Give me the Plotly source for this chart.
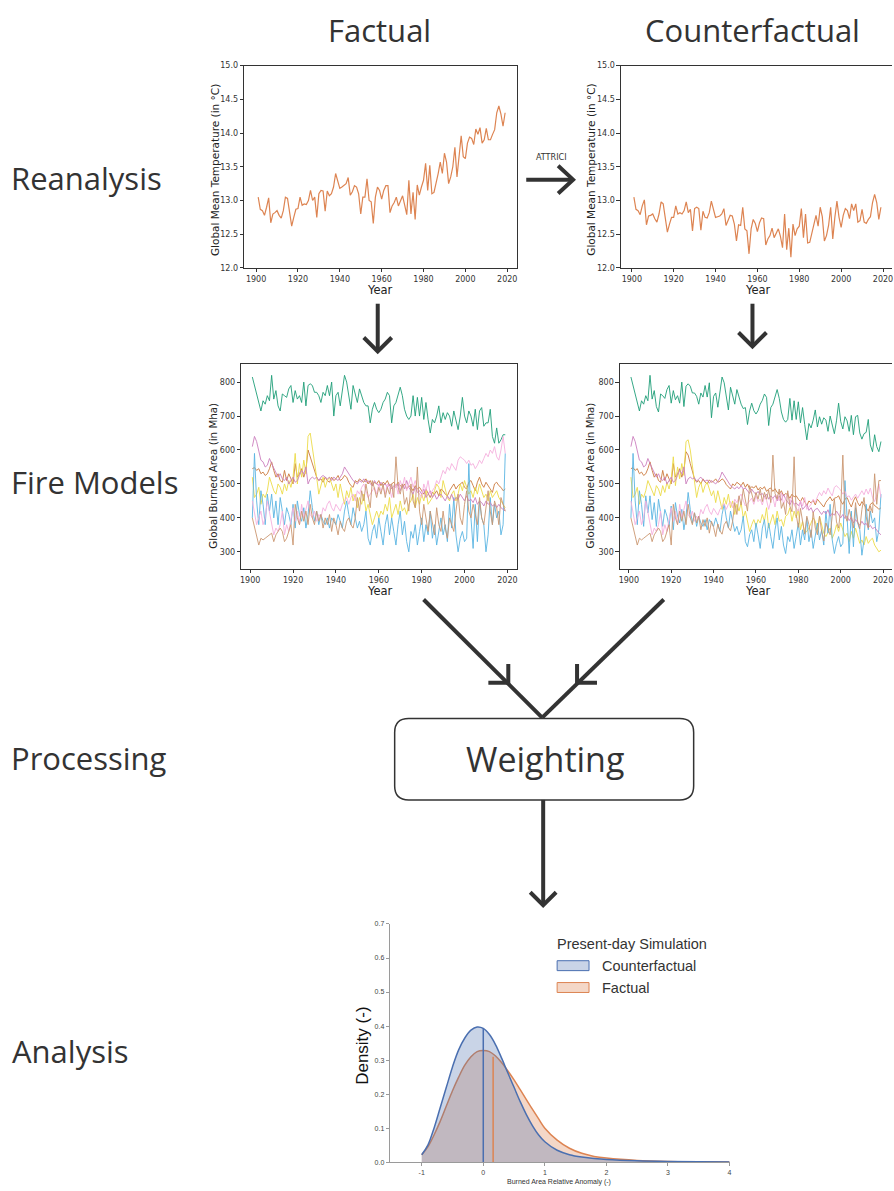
import plotly.graph_objects as go

W, H = 894, 1191


def px(x):
    return x / W


def py(y):
    return 1 - y / H


# ---------------- DATA ----------------
years = list(range(1901, 2020))

temp_factual = [
    13.05, 12.87, 12.85, 12.78, 12.90, 13.04, 12.67, 12.80, 12.82, 12.85,
    12.78, 12.74, 12.85, 13.05, 13.03, 12.80, 12.62, 12.75, 12.87, 12.88,
    13.05, 12.93, 12.95, 12.94, 13.00, 13.15, 13.00, 13.05, 12.75, 13.10,
    13.15, 13.14, 12.84, 13.14, 13.07, 13.10, 13.20, 13.40, 13.28, 13.18,
    13.20, 13.22, 13.25, 13.34, 13.08, 13.13, 13.22, 13.20, 13.10, 12.80,
    13.05, 13.05, 13.32, 13.00, 12.98, 12.66, 13.05, 13.20, 13.15, 13.02,
    13.15, 13.22, 13.22, 12.82, 12.92, 12.97, 13.05, 12.92, 13.00, 13.07,
    12.93, 12.79, 13.30, 12.80, 13.12, 12.72, 13.23, 13.08, 13.20, 13.30,
    13.55, 13.15, 13.52, 13.10, 13.12, 13.25, 13.40, 13.57, 13.40, 13.70,
    13.57, 13.25, 13.35, 13.50, 13.79, 13.35, 13.70, 13.96, 13.65, 13.62,
    13.85, 13.94, 13.92, 13.83, 14.06, 13.98, 14.08, 13.85, 13.90, 14.07,
    13.90, 13.90, 13.98, 14.05, 14.30, 14.40, 14.28, 14.10, 14.30,
]

temp_counterfactual = [
    13.05, 12.87, 12.85, 12.79, 12.92, 13.01, 12.64, 12.77, 12.78, 12.80,
    12.73, 12.68, 12.80, 12.98, 12.95, 12.70, 12.53, 12.65, 12.75, 12.75,
    12.92, 12.80, 12.82, 12.80, 12.85, 12.98, 12.82, 12.87, 12.55, 12.88,
    12.90, 12.88, 12.56, 12.84, 12.75, 12.74, 12.82, 12.99, 12.86, 12.75,
    12.76, 12.77, 12.80, 12.88, 12.63, 12.70, 12.78, 12.77, 12.65, 12.40,
    12.64, 12.63, 12.90, 12.58, 12.55, 12.21, 12.58, 12.72, 12.66, 12.54,
    12.67, 12.74, 12.73, 12.34, 12.43, 12.48, 12.59, 12.45, 12.52, 12.58,
    12.47, 12.30, 12.80, 12.27, 12.59, 12.16, 12.65, 12.48, 12.58, 12.62,
    12.88, 12.45, 12.80, 12.37, 12.38, 12.50, 12.63, 12.78, 12.62, 12.90,
    12.76, 12.40, 12.48, 12.63, 12.90, 12.43, 12.75, 12.99, 12.75, 12.60,
    12.78, 12.88, 12.85, 12.73, 12.95, 12.85, 12.95, 12.68, 12.70, 12.87,
    12.68, 12.66, 12.72, 12.76, 12.97, 13.09, 12.97, 12.72, 12.90,
]

# Fire models, factual forcing (Mha)
fire_factual_green = [
    815, 790, 770, 740, 715, 745, 735, 760, 745, 820,
    750, 775, 730, 715, 765, 760, 755, 780, 790, 740,
    775, 750, 760, 740, 800, 730, 790, 795, 790, 770,
    770, 760, 740, 770, 760, 790, 760, 800, 700, 760,
    770, 730, 780, 820, 800, 760, 720, 790, 760, 740,
    780, 760, 740, 730, 730, 680, 720, 740, 720, 710,
    720, 740, 750, 770, 760, 680, 730, 740, 760, 785,
    760, 720, 700, 690, 700, 760, 700, 755, 700, 755,
    690, 740, 690, 650, 690, 680, 700, 730, 680, 710,
    690, 710, 700, 670, 715, 690, 660, 700, 755, 700,
    680, 715, 700, 670, 720, 660, 715, 725, 670, 680,
    680, 720, 640, 620, 665, 620, 630, 645, 645,
]
fire_factual_orange = [
    545, 548, 540, 545, 530, 535, 525, 530, 545, 565,
    540, 520, 530, 510, 505, 540, 510, 530, 515, 500,
    560, 520, 530, 545, 520, 540, 600, 580, 560, 540,
    520, 510, 515, 505, 520, 510, 505, 520, 510, 515,
    525, 510, 515, 525, 520, 505, 495, 490, 510, 505,
    515, 510, 505, 515, 500, 510, 495, 505, 500, 510,
    495, 505, 500, 510, 495, 500, 505, 495, 505, 495,
    490, 500, 485, 495, 490, 480, 495, 485, 490, 480,
    470, 485, 470, 460, 475, 470, 480, 465, 485, 480,
    470, 465, 480, 490, 500, 485, 495, 500, 505, 490,
    485, 505, 510, 495, 480, 505, 520, 500, 490, 505,
    495, 485, 475, 500, 505, 495, 490, 480, 485,
]
fire_factual_yellow = [
    520, 460, 470, 490, 440, 470, 460, 480, 520, 500,
    480, 470, 500, 490, 470, 500, 480, 510, 490, 520,
    590, 500, 560, 520, 570, 530, 640, 650, 610, 560,
    520, 470, 500, 520, 490, 510, 520, 500, 480, 500,
    460, 500, 470, 440, 480, 460, 490, 450, 470, 430,
    460, 440, 470, 420, 440, 410, 380, 400, 420, 400,
    420, 410, 440, 420, 460, 400, 420, 440, 410, 450,
    420, 430, 410, 440, 450, 470, 430, 460, 440, 470,
    450, 480, 440, 450, 460, 480, 500, 490, 460, 510,
    480, 460, 450, 470, 480, 450, 470, 500, 480, 510,
    490, 470, 480, 460, 490, 470, 500, 480, 460, 470,
    450, 480, 460, 470, 480, 460, 450, 440, 430,
]
fire_factual_blue = [
    400, 590, 450, 380, 480, 440, 380, 470, 420, 470,
    400, 450, 380, 460, 420, 380, 430, 410, 380, 440,
    370, 450, 410, 390, 430, 370, 410, 480, 430, 390,
    420, 380, 410, 390, 380, 400, 370, 400, 390, 380,
    410, 390, 370, 420, 450, 410, 380, 430, 400, 370,
    390, 360, 380, 420, 340, 320, 360, 380, 340, 400,
    360, 320, 380, 410, 350, 400, 360, 320, 380, 420,
    350, 390, 330, 300, 360, 340, 380, 320, 360, 400,
    330, 380, 350, 420, 340, 380, 320, 360, 400, 350,
    380, 330, 440, 370, 460, 350, 300, 340, 360, 330,
    340, 560, 400, 310, 440, 330, 450, 400, 380, 300,
    350, 460, 380, 440, 400, 420, 350, 380, 590,
]
fire_factual_magenta = [
    610, 640, 625, 600, 570, 565, 550, 555, 575, 560,
    545, 535, 520, 530, 515, 510, 520, 500, 510, 520,
    505, 510, 525, 540, 530, 550, 500, 515, 520, 515,
    520, 510, 520, 525, 520, 515, 520, 510, 520, 515,
    510, 520, 530, 550, 540, 530, 520, 510, 505, 500,
    510, 505, 515, 505, 510, 500, 495, 510, 500, 495,
    505, 495, 500, 490, 500, 485, 495, 490, 500, 480,
    500, 485, 510, 490, 480, 470, 490, 475, 480, 470,
    485, 460, 470, 480, 460, 470, 455, 465, 470, 460,
    450, 465, 455, 470, 450, 460, 455, 470, 460, 450,
    465, 450, 455, 445, 460, 440, 450, 445, 435, 450,
    440, 445, 435, 440, 430, 440, 430, 425, 420,
]
fire_factual_pink = [
    450, 420, 380, 400, 420, 380, 400, 450, 420, 390,
    350, 370, 360, 380, 420, 350, 380, 360, 400, 430,
    390, 420, 380, 440, 400, 430, 450, 410, 400, 420,
    390, 410, 400, 430, 420, 440, 450, 430, 420, 440,
    430, 420, 440, 450, 460, 440, 460, 470, 450, 480,
    470, 490, 500, 480, 460, 470, 480, 490, 470, 500,
    480, 490, 470, 500, 490, 460, 490, 500, 470, 510,
    490, 520, 480, 500, 520, 490, 510, 480, 470, 460,
    500, 480, 510, 470, 480, 490, 510, 500, 520, 540,
    530, 550, 540, 560, 550, 540, 570, 580, 575, 570,
    560, 570, 555, 560, 545, 555, 570, 560, 575, 590,
    580, 600, 590, 610, 580, 570, 600, 640, 590,
]
fire_factual_tan = [
    400, 370, 340, 320, 340, 335, 340, 345, 350, 355,
    330, 350, 360, 370, 360, 330, 340, 360, 380, 320,
    440, 400, 380, 420, 390, 420, 380, 440, 400, 380,
    420, 390, 410, 370, 400, 380, 410, 360, 400, 380,
    350, 390, 370, 360, 390, 400, 380, 370, 400, 460,
    420, 480, 450, 500, 460, 430, 510, 480, 460, 490,
    470, 500, 460, 490, 470, 500, 460, 580, 490, 470,
    500, 440, 460, 420, 500, 450, 430, 550, 420, 380,
    440, 400, 360, 420, 390, 350, 430, 380, 360, 420,
    370, 340, 400, 380, 360, 420, 470, 400, 380, 440,
    480, 420, 400, 440, 410, 380, 460, 400, 380, 440,
    480, 420, 380, 450, 430, 380, 460, 440, 420,
]

# Fire models, counterfactual forcing (Mha)
fire_counter_green = [
    815, 790, 770, 740, 715, 745, 735, 760, 745, 820,
    750, 775, 728, 712, 765, 760, 752, 778, 790, 738,
    775, 748, 760, 738, 800, 728, 788, 795, 788, 768,
    768, 758, 735, 768, 756, 790, 756, 798, 695, 758,
    768, 726, 778, 815, 798, 755, 718, 785, 755, 735,
    778, 755, 735, 722, 725, 675, 715, 738, 716, 706,
    716, 735, 746, 765, 755, 672, 725, 735, 755, 778,
    752, 712, 690, 682, 690, 752, 688, 745, 690, 742,
    680, 725, 675, 630, 678, 665, 688, 718, 668, 698,
    676, 695, 688, 655, 700, 676, 648, 686, 738, 684,
    662, 698, 686, 655, 702, 645, 698, 702, 650, 632,
    648, 652, 690, 615, 595, 645, 610, 595, 625,
]
fire_counter_orange = [
    545, 548, 540, 545, 530, 535, 525, 530, 545, 565,
    540, 520, 530, 510, 505, 540, 510, 530, 515, 500,
    560, 520, 530, 545, 520, 540, 595, 585, 560, 540,
    515, 505, 510, 500, 515, 505, 500, 512, 505, 508,
    515, 505, 508, 515, 510, 498, 490, 485, 500, 495,
    505, 500, 495, 505, 490, 500, 485, 492, 488, 495,
    482, 490, 485, 492, 478, 485, 488, 478, 486, 475,
    470, 480, 465, 472, 468, 458, 470, 462, 465, 455,
    448, 460, 446, 436, 450, 444, 452, 438, 455, 448,
    440, 432, 446, 455, 462, 450, 458, 460, 465, 450,
    440, 455, 460, 445, 432, 450, 462, 445, 435, 448,
    440, 430, 420, 440, 445, 436, 432, 425, 430,
]
fire_counter_yellow = [
    520, 460, 470, 490, 440, 470, 460, 480, 510, 495,
    475, 465, 495, 485, 465, 495, 475, 505, 485, 515,
    580, 495, 550, 515, 560, 525, 625, 630, 600, 550,
    510, 460, 490, 505, 475, 495, 505, 485, 465, 480,
    445, 480, 455, 425, 460, 440, 470, 430, 450, 410,
    440, 420, 445, 400, 420, 390, 360, 380, 395, 375,
    395, 385, 410, 390, 430, 370, 390, 410, 380, 420,
    390, 395, 375, 405, 410, 430, 390, 420, 400, 425,
    365, 390, 355, 360, 370, 385, 400, 390, 360, 405,
    375, 355, 345, 360, 370, 340, 355, 380, 360, 385,
    365, 345, 355, 330, 360, 340, 370, 345, 325, 335,
    320, 345, 325, 335, 340, 320, 310, 300, 305,
]
fire_counter_blue = [
    400, 590, 450, 380, 480, 440, 375, 465, 415, 465,
    395, 445, 375, 455, 415, 375, 425, 405, 375, 435,
    365, 445, 405, 385, 425, 365, 405, 475, 425, 385,
    415, 375, 405, 385, 375, 395, 365, 395, 385, 375,
    400, 380, 360, 410, 440, 400, 370, 420, 390, 360,
    375, 350, 365, 405, 330, 315, 350, 365, 330, 385,
    350, 310, 370, 395, 340, 385, 345, 310, 365, 400,
    335, 375, 320, 295, 345, 330, 365, 310, 345, 385,
    320, 365, 335, 400, 330, 365, 310, 345, 385, 335,
    365, 320, 420, 355, 440, 335, 295, 325, 345, 315,
    325, 510, 385, 295, 420, 315, 430, 385, 365, 290,
    335, 440, 365, 420, 385, 400, 330, 365, 470,
]
fire_counter_magenta = [
    610, 640, 625, 600, 570, 565, 550, 555, 575, 560,
    545, 535, 520, 530, 515, 510, 520, 500, 510, 520,
    505, 510, 525, 540, 530, 550, 500, 515, 520, 515,
    518, 508, 515, 520, 512, 508, 512, 502, 510, 505,
    500, 508, 518, 535, 525, 515, 505, 495, 490, 485,
    492, 486, 495, 485, 488, 478, 472, 485, 475, 470,
    478, 468, 472, 462, 470, 455, 465, 458, 466, 450,
    465, 452, 470, 455, 445, 438, 452, 440, 444, 436,
    446, 425, 432, 440, 422, 430, 416, 425, 428, 418,
    410, 420, 412, 424, 405, 414, 408, 420, 410, 400,
    410, 398, 405, 392, 402, 385, 395, 388, 378, 390,
    380, 384, 372, 378, 368, 372, 362, 356, 350,
]
fire_counter_pink = [
    450, 420, 380, 400, 420, 380, 400, 450, 420, 390,
    350, 370, 360, 380, 420, 350, 380, 360, 400, 430,
    390, 420, 380, 440, 400, 430, 450, 410, 400, 420,
    390, 405, 395, 425, 412, 430, 440, 420, 410, 428,
    418, 408, 425, 435, 442, 425, 440, 448, 430, 455,
    445, 462, 470, 452, 435, 442, 450, 458, 440, 465,
    448, 455, 438, 462, 452, 425, 450, 460, 432, 468,
    450, 475, 440, 455, 472, 445, 462, 438, 428, 420,
    452, 435, 460, 425, 432, 440, 455, 445, 462, 475,
    465, 480, 470, 488, 475, 465, 490, 495, 488, 482,
    470, 478, 462, 465, 452, 460, 470, 458, 470, 480,
    468, 485, 470, 488, 460, 448, 470, 500, 460,
]
fire_counter_tan = [
    400, 370, 340, 320, 340, 335, 340, 345, 350, 355,
    330, 350, 360, 370, 360, 330, 340, 360, 380, 320,
    440, 400, 380, 420, 390, 420, 380, 440, 400, 380,
    415, 385, 405, 365, 395, 375, 400, 355, 390, 372,
    345, 382, 362, 352, 380, 390, 372, 362, 390, 445,
    410, 465, 438, 485, 450, 420, 495, 468, 448, 475,
    455, 485, 448, 475, 455, 482, 445, 585, 472, 455,
    485, 428, 445, 410, 480, 435, 418, 580, 410, 372,
    428, 390, 352, 405, 380, 342, 418, 370, 350, 405,
    360, 332, 385, 368, 350, 405, 455, 388, 370, 425,
    585, 410, 390, 425, 398, 370, 445, 390, 368, 425,
    460, 405, 370, 435, 415, 530, 440, 510, 510,
]

# Density of burned-area relative anomaly (present-day simulation)
anomaly_x = [-1.0, -0.9, -0.8, -0.7, -0.6, -0.5, -0.4, -0.3, -0.2, -0.1,
             0.0, 0.1, 0.2, 0.3, 0.4, 0.5, 0.6, 0.7, 0.8, 0.9,
             1.0, 1.2, 1.4, 1.6, 1.8, 2.0, 2.5, 3.0, 3.5, 4.0]
density_counterfactual = [0.022, 0.05, 0.10, 0.16, 0.22, 0.28, 0.33, 0.365, 0.388, 0.397,
                          0.393, 0.375, 0.345, 0.305, 0.262, 0.22, 0.178, 0.14, 0.107, 0.08,
                          0.06, 0.035, 0.022, 0.015, 0.011, 0.008, 0.004, 0.002, 0.001, 0.0005]
density_factual = [0.022, 0.045, 0.08, 0.12, 0.165, 0.21, 0.25, 0.285, 0.31, 0.325,
                   0.328, 0.325, 0.312, 0.292, 0.268, 0.242, 0.213, 0.184, 0.155, 0.127,
                   0.10, 0.065, 0.041, 0.026, 0.017, 0.012, 0.005, 0.002, 0.001, 0.0005]
center_counterfactual = (0.0, 0.394)
center_factual = (0.16, 0.31)

year_ticks = [1900, 1920, 1940, 1960, 1980, 2000, 2020]
temp_ticks = [12.0, 12.5, 13.0, 13.5, 14.0, 14.5, 15.0]
fire_ticks = [300, 400, 500, 600, 700, 800]
anomaly_ticks = [-1, 0, 1, 2, 3, 4]
anomaly_ticklabels = ["-1", "0", "1", "2", "3", "4"]
density_ticks = [0.0, 0.1, 0.2, 0.3, 0.4, 0.5, 0.6, 0.7]

fire_colors = {
    "green": "#1f9e78", "orange": "#cc7a3e", "yellow": "#ecdb48", "blue": "#5ab4e2",
    "magenta": "#cc7fbe", "pink": "#f5b0de", "tan": "#cb9670",
}
TEMP_COLOR = "#dd8452"
DARK = "#333333"

fig = go.Figure()

# ---------------- TRACES ----------------
fig.add_trace(go.Scatter(x=years, y=temp_factual, mode="lines",
                         line=dict(color=TEMP_COLOR, width=1.2), xaxis="x", yaxis="y"))
fig.add_trace(go.Scatter(x=years, y=temp_counterfactual, mode="lines",
                         line=dict(color=TEMP_COLOR, width=1.2), xaxis="x2", yaxis="y2"))

fact_series = [("green", fire_factual_green), ("orange", fire_factual_orange),
               ("yellow", fire_factual_yellow), ("blue", fire_factual_blue),
               ("magenta", fire_factual_magenta), ("pink", fire_factual_pink),
               ("tan", fire_factual_tan)]
cf_series = [("green", fire_counter_green), ("orange", fire_counter_orange),
             ("yellow", fire_counter_yellow), ("blue", fire_counter_blue),
             ("magenta", fire_counter_magenta), ("pink", fire_counter_pink),
             ("tan", fire_counter_tan)]
for name, vals in fact_series:
    assert len(vals) == len(years), name
    fig.add_trace(go.Scatter(x=years, y=vals, mode="lines",
                             line=dict(color=fire_colors[name], width=0.9), xaxis="x3", yaxis="y3"))
for name, vals in cf_series:
    assert len(vals) == len(years), name
    fig.add_trace(go.Scatter(x=years, y=vals, mode="lines",
                             line=dict(color=fire_colors[name], width=0.9), xaxis="x4", yaxis="y4"))
assert len(temp_factual) == len(years) and len(temp_counterfactual) == len(years)

BLUE = "#4a6fb0"
ORANGE = "#dd8452"
fig.add_trace(go.Scatter(x=anomaly_x, y=density_factual, mode="lines", fill="tozeroy",
                         fillcolor="rgba(221,132,82,0.32)", line=dict(color=ORANGE, width=1.5, shape="spline"),
                         xaxis="x5", yaxis="y5"))
fig.add_trace(go.Scatter(x=anomaly_x, y=density_counterfactual, mode="lines", fill="tozeroy",
                         fillcolor="rgba(76,114,176,0.30)", line=dict(color=BLUE, width=1.5, shape="spline"),
                         xaxis="x5", yaxis="y5"))
fig.add_trace(go.Scatter(x=[center_counterfactual[0]] * 2, y=[0, center_counterfactual[1]], mode="lines",
                         line=dict(color=BLUE, width=1.5), xaxis="x5", yaxis="y5"))
fig.add_trace(go.Scatter(x=[center_factual[0]] * 2, y=[0, center_factual[1]], mode="lines",
                         line=dict(color=ORANGE, width=1.5), xaxis="x5", yaxis="y5"))

# ---------------- AXES ----------------
tickfont = dict(family="DejaVu Sans", size=8, color=DARK)


def xax(x0, x1, y_anchor, rng, ticks):
    return dict(domain=[px(x0), min(px(x1), 1.0)], range=rng, anchor=y_anchor,
                showgrid=False, zeroline=False, showline=True, linecolor=DARK, linewidth=1,
                mirror=True, ticks="outside", ticklen=3.5, tickwidth=0.8, tickcolor=DARK,
                tickvals=ticks, tickfont=tickfont, ticklabeloverflow="allow")


def yax(ytop, ybot, x_anchor, rng, ticks, fmt, mirror):
    return dict(domain=[py(ybot), py(ytop)], range=rng, anchor=x_anchor,
                showgrid=False, zeroline=False, showline=True, linecolor=DARK, linewidth=1,
                mirror=mirror, ticks="outside", ticklen=3.5, tickwidth=0.8, tickcolor=DARK,
                tickvals=ticks, tickformat=fmt, tickfont=tickfont)


layout = dict(
    width=W, height=H, margin=dict(l=0, r=0, t=0, b=0),
    paper_bgcolor="white", plot_bgcolor="white", showlegend=False,
    xaxis=xax(244, 518, "y", [1894.3, 2024.8], year_ticks),
    yaxis=yax(62, 266, "x", [12.0, 15.0], temp_ticks, ".1f", True),
    xaxis2=xax(622, 894, "y2", [1894.8, 2024.3], year_ticks),
    yaxis2=yax(62, 266, "x2", [12.0, 15.0], temp_ticks, ".1f", False),
    xaxis3=xax(241, 518, "y3", [1895.8, 2024.6], year_ticks),
    yaxis3=yax(363, 569, "x3", [250.3, 852.6], fire_ticks, "d", True),
    xaxis4=xax(621, 894, "y4", [1895.8, 2024.2], year_ticks),
    yaxis4=yax(363, 569, "x4", [250.3, 852.6], fire_ticks, "d", False),
    xaxis5=dict(domain=[px(390), px(731)], range=[-1.52, 4.0], anchor="y5",
                showgrid=False, zeroline=False, showline=True, linecolor="#9a9a9a", linewidth=1,
                ticks="outside", ticklen=3, tickcolor="#9a9a9a", tickvals=anomaly_ticks,
                ticktext=anomaly_ticklabels,
                tickfont=dict(family="Liberation Sans", size=7, color="#444")),
    yaxis5=dict(domain=[py(1167), py(927)], range=[0, 0.7], anchor="x5",
                showgrid=False, zeroline=False, showline=True, linecolor="#9a9a9a", linewidth=1,
                ticks="outside", ticklen=3, tickcolor="#9a9a9a", tickvals=density_ticks,
                tickformat=".1f", tickfont=dict(family="Liberation Sans", size=7, color="#444")),
)
fig.update_layout(**layout)

# ---------------- TEXT ----------------
ann = []


def text(x, y, s, size, family="Open Sans", color=DARK, xanchor="center", angle=0):
    ann.append(dict(x=px(x), y=py(y), xref="paper", yref="paper", text=s, showarrow=False,
                    font=dict(family=family, size=size, color=color), xanchor=xanchor,
                    yanchor="middle", textangle=angle, borderpad=0))


text(380, 26, "Factual", 31)
text(754, 26, "Counterfactual", 31)
text(9, 175, "Reanalysis", 31, xanchor="left")
text(9, 482, "Fire Models", 31, xanchor="left")
text(9, 760, "Processing", 31, xanchor="left")
text(10, 1055, "Analysis", 31, xanchor="left")
text(546, 761, "Weighting", 34)
text(552, 154, "ATTRICI", 9, family="DejaVu Sans Condensed")

for xc in (380, 760):
    text(xc, 288, "Year", 11.5, family="DejaVu Sans", color="#222")
    text(xc, 591, "Year", 11.5, family="DejaVu Sans", color="#222")
text(214, 167, "Global Mean Temperature (in °C)", 10.5, family="DejaVu Sans", color="#222", angle=-90)
text(592, 167, "Global Mean Temperature (in °C)", 10.5, family="DejaVu Sans", color="#222", angle=-90)
text(213, 475, "Global Burned Area (in Mha)", 10.3, family="DejaVu Sans", color="#222", angle=-90)
text(591, 475, "Global Burned Area (in Mha)", 10.3, family="DejaVu Sans", color="#222", angle=-90)

text(362, 1050, "Density (-)", 17, family="Liberation Sans", color="#111", angle=-90)
text(560, 1187, "Burned Area Relative Anomaly (-)", 7, family="Liberation Sans", color="#333")
text(557, 947, "Present-day Simulation", 14.5, family="Liberation Sans", color="#333", xanchor="left")
text(602, 969, "Counterfactual", 14.5, family="Liberation Sans", color="#333", xanchor="left")
text(602, 991, "Factual", 14.5, family="Liberation Sans", color="#333", xanchor="left")

# ---------------- SHAPES ----------------
shapes = []


def poly(points, width=4, color=DARK):
    d = "M " + " L ".join(f"{px(x):.5f},{py(y):.5f}" for x, y in points)
    shapes.append(dict(type="path", path=d, xref="paper", yref="paper",
                       line=dict(color=color, width=width)))


# ATTRICI arrow
poly([(527, 177), (573, 177)])
poly([(559, 163), (574, 177), (559, 191)])
# down arrows below temperature panels
poly([(378, 302), (378, 350)])
poly([(364, 336), (378, 350), (392, 336)])
poly([(754, 302), (754, 345)])
poly([(740, 331), (754, 345), (768, 331)])
# converging lines
poly([(424, 600), (543, 719)])
poly([(665, 600), (543, 719)])
poly([(489, 684), (509, 684), (509, 665)])
poly([(598, 684), (578, 684), (578, 665)])
# down arrow to analysis
poly([(544, 802), (544, 908)])
poly([(531, 895), (544, 908), (557, 895)])

# rounded box
x0, y0, x1, y1, r = 395, 720, 695, 802, 14


def P(x, y):
    return f"{px(x):.5f},{py(y):.5f}"


box = (f"M {P(x0 + r, y0)} L {P(x1 - r, y0)} Q {P(x1, y0)} {P(x1, y0 + r)} "
       f"L {P(x1, y1 - r)} Q {P(x1, y1)} {P(x1 - r, y1)} L {P(x0 + r, y1)} "
       f"Q {P(x0, y1)} {P(x0, y1 - r)} L {P(x0, y0 + r)} Q {P(x0, y0)} {P(x0 + r, y0)} Z")
shapes.append(dict(type="path", path=box, xref="paper", yref="paper",
                   line=dict(color=DARK, width=1.5), fillcolor="white", layer="below"))

# legend patches for the density panel
shapes.append(dict(type="rect", xref="paper", yref="paper", x0=px(558), x1=px(590), y0=py(974), y1=py(964),
                   fillcolor="rgba(76,114,176,0.30)", line=dict(color=BLUE, width=1)))
shapes.append(dict(type="rect", xref="paper", yref="paper", x0=px(558), x1=px(590), y0=py(996), y1=py(986),
                   fillcolor="rgba(221,132,82,0.32)", line=dict(color=ORANGE, width=1)))

fig.update_layout(annotations=ann, shapes=shapes)

fig.write_html("out.html")
